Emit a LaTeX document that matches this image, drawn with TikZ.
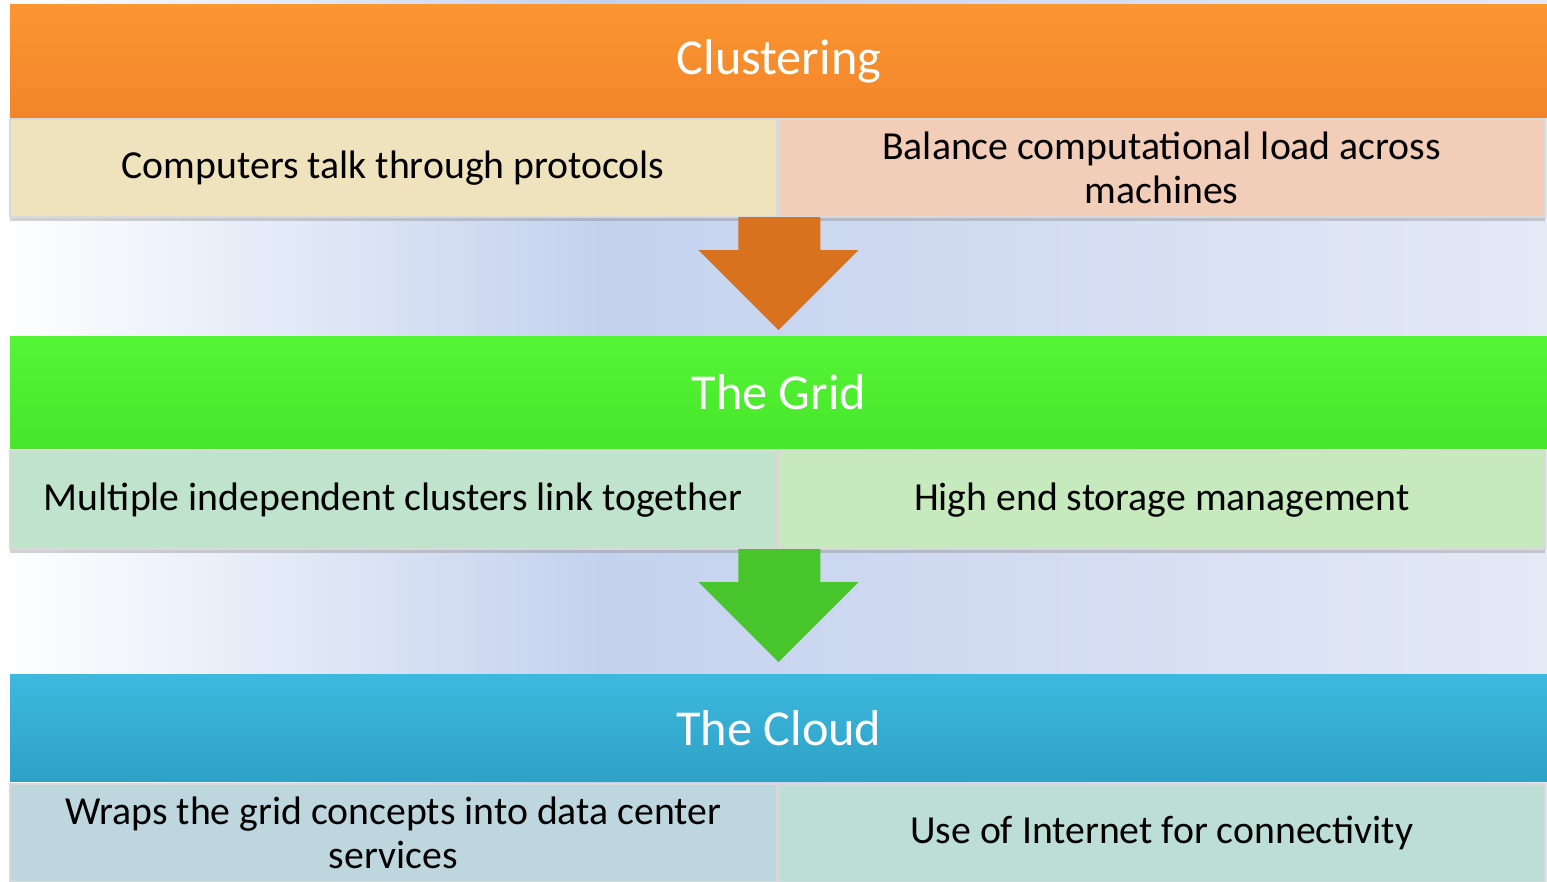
\documentclass[tikz,border=0pt]{standalone}
\usepackage{fontspec}
\setmainfont{Carlito}
\usepackage{tikz}
\usetikzlibrary{positioning,shadows,calc}
\definecolor{clusttop}{HTML}{FB9631}
\definecolor{clustbot}{HTML}{F2852A}
\definecolor{gridtop}{HTML}{55F435}
\definecolor{gridbot}{HTML}{48E62B}
\definecolor{cloudtop}{HTML}{3DB8DE}
\definecolor{cloudbot}{HTML}{2EA1C6}
\definecolor{sandfill}{HTML}{EEE3BC}
\definecolor{peachfill}{HTML}{F2CDB8}
\definecolor{mintfill}{HTML}{BFE4CB}
\definecolor{limefill}{HTML}{C6E9BD}
\definecolor{steelfill}{HTML}{BED6DD}
\definecolor{tealfill}{HTML}{BCDED6}
\definecolor{arroworange}{HTML}{D8721F}
\definecolor{arrowgreen}{HTML}{47C52B}
\definecolor{bgblue}{HTML}{C4D2EE}
\definecolor{bgright}{HTML}{E4E9F6}

\begin{document}
\begin{tikzpicture}
[x=0.01cm, y=-0.01cm,
% STYLES
% The head style is used for the three wide title bars
head/.style={rectangle, inner sep=0pt, outer sep=0pt, minimum width=15.37cm, text=white, font=\fontsize{14.3}{17}\selectfont},
% The part style is used for the two boxes under each title bar
part/.style={rectangle, inner sep=0pt, outer sep=0pt, minimum width=7.66cm, minimum height=0.98cm, align=center, font=\fontsize{11.3}{12.4}\selectfont, draw=white!70!gray, line width=0.4pt, drop shadow={shadow xshift=0pt, shadow yshift=-0.04cm, opacity=0.35}},
% The step arrows between the bars
downarrow/.style={draw=none}]
% background
\useasboundingbox (0,0) rectangle (1547,882);
\shade[left color=white, right color=bgblue] (0,0) rectangle (600,882);
\shade[left color=bgblue, right color=bgright] (599,0) rectangle (1547,882);
% Draw title bars
\node [head, anchor=north west, minimum height=1.12cm, top color=clusttop, bottom color=clustbot] (clust) at (10,5) {Clustering};
\node [head, anchor=north west, minimum height=1.11cm, top color=gridtop, bottom color=gridbot] (grid) at (10,337) {The Grid};
\node [head, anchor=north west, minimum height=1.06cm, top color=cloudtop, bottom color=cloudbot] (cloud) at (10,675) {The Cloud};
%%%%%%%%%%%%%%%
% clustering
\node [part, fill=sandfill, below right=0.02cm and 0cm of clust.south west] (protocols) {Computers talk through protocols};
\node [part, fill=peachfill, right=0.02cm of protocols] (balance) {Balance computational load across\\machines};
% grid
\node [part, fill=mintfill, below right=0.03cm and 0cm of grid.south west] (link) {Multiple independent clusters link together};
\node [part, fill=limefill, right=0.02cm of link] (storage) {High end storage management};
% cloud
\node [part, fill=steelfill, below right=0.03cm and 0cm of cloud.south west] (wraps) {Wraps the grid concepts into data center\\services};
\node [part, fill=tealfill, right=0.02cm of wraps] (internet) {Use of Internet for connectivity};
%%%%%%%%%%%%%%%%
% Draw the arrows between the bars
\fill [downarrow, arroworange] ([xshift=-0.38cm]protocols.south east) -- ++(0,33) -- ++(-40,0) -- ++(80,80) -- ++(80,-80) -- ++(-38,0) -- ++(0,-33) -- cycle;
\fill [downarrow, arrowgreen] ([xshift=-0.38cm]link.south east) -- ++(0,33) -- ++(-40,0) -- ++(80,80) -- ++(80,-80) -- ++(-38,0) -- ++(0,-33) -- cycle;
\end{tikzpicture}
\end{document}
